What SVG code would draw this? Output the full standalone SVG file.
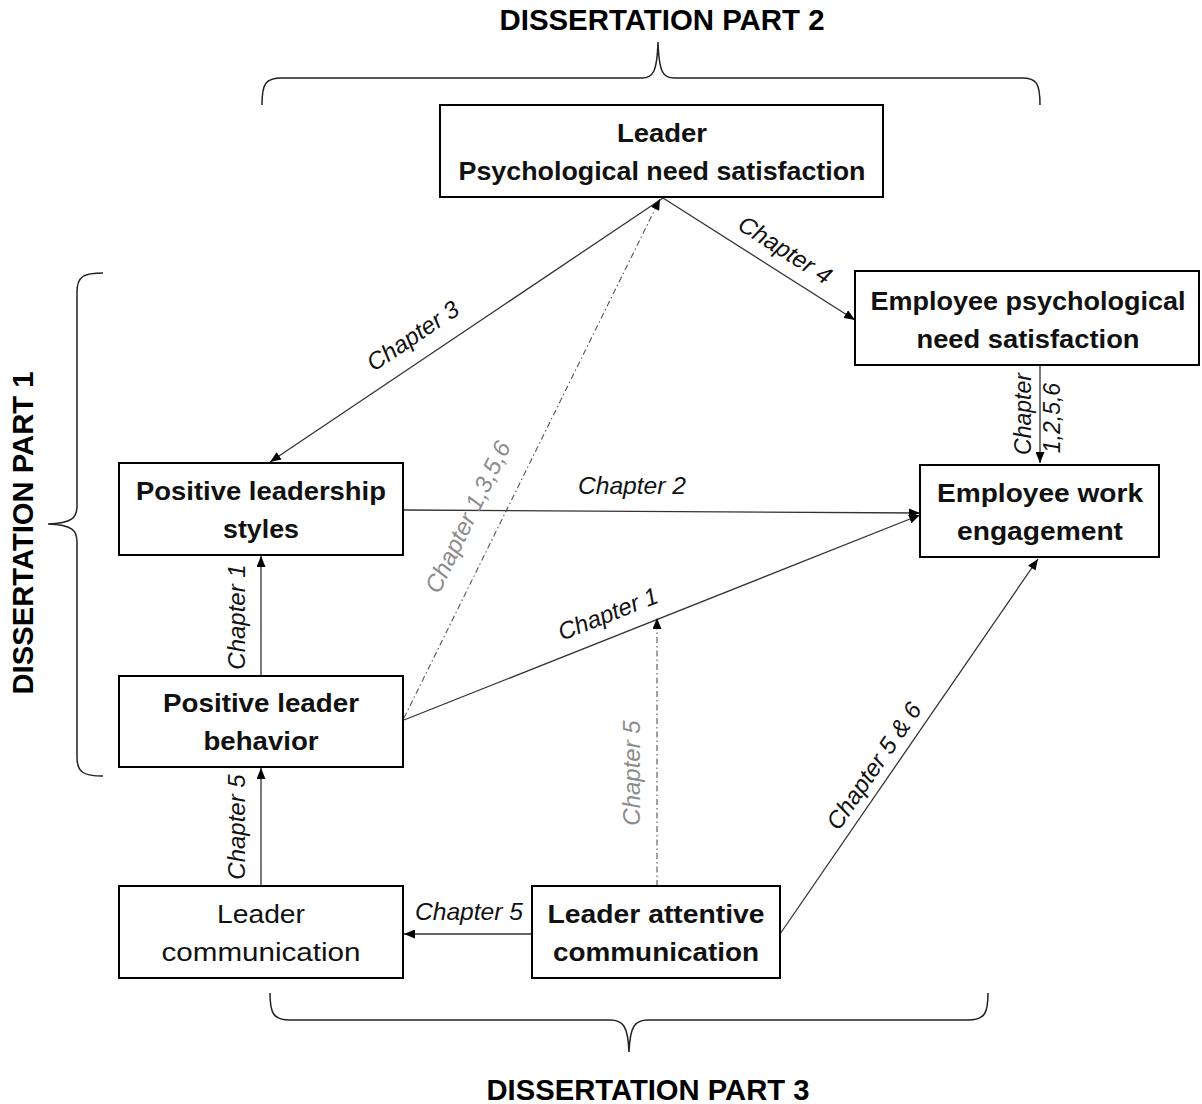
<svg xmlns="http://www.w3.org/2000/svg" width="1202" height="1104" viewBox="0 0 1202 1104">
  <defs>
    <marker id="arrow" viewBox="0 0 11 9" refX="11" refY="4.5" markerWidth="11" markerHeight="9" markerUnits="userSpaceOnUse" orient="auto">
      <path d="M0,0 L11,4.5 L0,9 z" fill="#000"/>
    </marker>
    <style>
      .box { fill: #fff; stroke: #000; stroke-width: 2; }
      .nb { font-family: "Liberation Sans", Arial, sans-serif; font-size: 26px; font-weight: bold; fill: #111; text-anchor: middle; }
      .nr { font-family: "Liberation Sans", Arial, sans-serif; font-size: 26px; fill: #111; text-anchor: middle; }
      .title { font-family: "Liberation Sans", Arial, sans-serif; font-size: 30px; font-weight: bold; fill: #000; text-anchor: middle; }
      .lbl { font-family: "Liberation Sans", Arial, sans-serif; font-size: 24px; font-style: italic; fill: #111; text-anchor: middle; }
      .lblg { font-family: "Liberation Sans", Arial, sans-serif; font-size: 24px; font-style: italic; fill: #8c8c8c; text-anchor: middle; }
      .edge { fill: none; stroke: #333; stroke-width: 1.3; marker-end: url(#arrow); }
      .dash { fill: none; stroke: #555; stroke-width: 1.1; stroke-dasharray: 6 3 1.5 3; marker-end: url(#arrow); }
      .brace { fill: none; stroke: #222; stroke-width: 1.5; }
    </style>
  </defs>

  <!-- section titles and braces -->
  <g id="part2">
    <text class="title" x="662" y="30" textLength="325" lengthAdjust="spacingAndGlyphs">DISSERTATION PART 2</text>
    <path class="brace" d="M262,105 C262,84 265,78 282,78 L642,78 C653,78 657,72 658,42 C659,72 663,78 674,78 L1022,78 C1037,78 1040,84 1040,105"/>
  </g>
  <g id="part1">
    <text class="title" transform="translate(33,533) rotate(-90)" x="0" y="0" textLength="323" lengthAdjust="spacingAndGlyphs">DISSERTATION PART 1</text>
    <path class="brace" d="M103,273 C84,273 77,276 77,292 L77,506 C77,518 72,523 48,524 C72,525 77,530 77,542 L77,757 C77,773 84,776 103,776"/>
  </g>
  <g id="part3">
    <path class="brace" d="M270,993 C270,1013 273,1020 290,1020 L610,1020 C623,1020 628,1026 629,1052 C630,1026 635,1020 648,1020 L968,1020 C985,1020 988,1013 988,993"/>
    <text class="title" x="648" y="1100" textLength="323" lengthAdjust="spacingAndGlyphs">DISSERTATION PART 3</text>
  </g>

  <!-- connectors -->
  <g id="connectors">
    <line class="edge" x1="663" y1="198" x2="270" y2="462"/>
    <line class="edge" x1="663" y1="198" x2="855" y2="320"/>
    <line class="dash" x1="404" y1="718" x2="660" y2="199"/>
    <line class="edge" x1="404" y1="510" x2="920" y2="513"/>
    <line class="edge" x1="404" y1="720" x2="920" y2="515"/>
    <line class="edge" x1="261" y1="675" x2="261" y2="556"/>
    <line class="edge" x1="261" y1="886" x2="261" y2="768"/>
    <line class="dash" x1="657" y1="886" x2="657" y2="618"/>
    <line class="edge" x1="1040" y1="366" x2="1040" y2="463"/>
    <line class="edge" x1="532" y1="934" x2="404" y2="934"/>
    <line class="edge" x1="780" y1="934" x2="1038" y2="559"/>

    <text class="lbl" transform="translate(413,336) rotate(-34)" y="8">Chapter 3</text>
    <text class="lbl" transform="translate(785,250) rotate(32.5)" y="8">Chapter 4</text>
    <text class="lblg" transform="translate(468,517) rotate(-64)" y="8">Chapter 1,3,5,6</text>
    <text class="lbl" x="632" y="494" textLength="108" lengthAdjust="spacingAndGlyphs">Chapter 2</text>
    <text class="lbl" transform="translate(608,614) rotate(-21.6)" y="8">Chapter 1</text>
    <text class="lbl" transform="translate(245,617) rotate(-90)">Chapter 1</text>
    <text class="lbl" transform="translate(245,827) rotate(-90)">Chapter 5</text>
    <text class="lblg" transform="translate(640,773) rotate(-90)">Chapter 5</text>
    <text class="lbl" transform="translate(1031,414) rotate(-90)" style="font-size:23px">Chapter</text>
    <text class="lbl" transform="translate(1060,418) rotate(-90)" style="font-size:23px">1,2,5,6</text>
    <text class="lbl" x="469" y="920" textLength="108" lengthAdjust="spacingAndGlyphs">Chapter 5</text>
    <text class="lbl" transform="translate(874,766) rotate(-55.5)" y="8">Chapter 5 &amp; 6</text>
  </g>

  <!-- nodes -->
  <g id="leader-need">
    <rect class="box" x="440" y="105" width="443" height="92"/>
    <text class="nb" x="662" y="142" textLength="90" lengthAdjust="spacingAndGlyphs">Leader</text>
    <text class="nb" x="662" y="180" textLength="407" lengthAdjust="spacingAndGlyphs">Psychological need satisfaction</text>
  </g>
  <g id="employee-need">
    <rect class="box" x="855" y="271" width="344" height="94"/>
    <text class="nb" x="1028" y="310" textLength="315" lengthAdjust="spacingAndGlyphs">Employee psychological</text>
    <text class="nb" x="1028" y="348" textLength="223" lengthAdjust="spacingAndGlyphs">need satisfaction</text>
  </g>
  <g id="leadership-styles">
    <rect class="box" x="119" y="463" width="284" height="92"/>
    <text class="nb" x="261" y="500" textLength="250" lengthAdjust="spacingAndGlyphs">Positive leadership</text>
    <text class="nb" x="261" y="538" textLength="76" lengthAdjust="spacingAndGlyphs">styles</text>
  </g>
  <g id="work-engagement">
    <rect class="box" x="920" y="465" width="239" height="92"/>
    <text class="nb" x="1040" y="502" textLength="206" lengthAdjust="spacingAndGlyphs">Employee work</text>
    <text class="nb" x="1040" y="540" textLength="166" lengthAdjust="spacingAndGlyphs">engagement</text>
  </g>
  <g id="leader-behavior">
    <rect class="box" x="119" y="676" width="284" height="91"/>
    <text class="nb" x="261" y="712" textLength="196" lengthAdjust="spacingAndGlyphs">Positive leader</text>
    <text class="nb" x="261" y="750" textLength="115" lengthAdjust="spacingAndGlyphs">behavior</text>
  </g>
  <g id="leader-communication">
    <rect class="box" x="119" y="886" width="284" height="92"/>
    <text class="nr" x="261" y="923" textLength="88" lengthAdjust="spacingAndGlyphs">Leader</text>
    <text class="nr" x="261" y="961" textLength="199" lengthAdjust="spacingAndGlyphs">communication</text>
  </g>
  <g id="attentive-communication">
    <rect class="box" x="532" y="886" width="248" height="92"/>
    <text class="nb" x="656" y="923" textLength="217" lengthAdjust="spacingAndGlyphs">Leader attentive</text>
    <text class="nb" x="656" y="961" textLength="206" lengthAdjust="spacingAndGlyphs">communication</text>
  </g>
</svg>
